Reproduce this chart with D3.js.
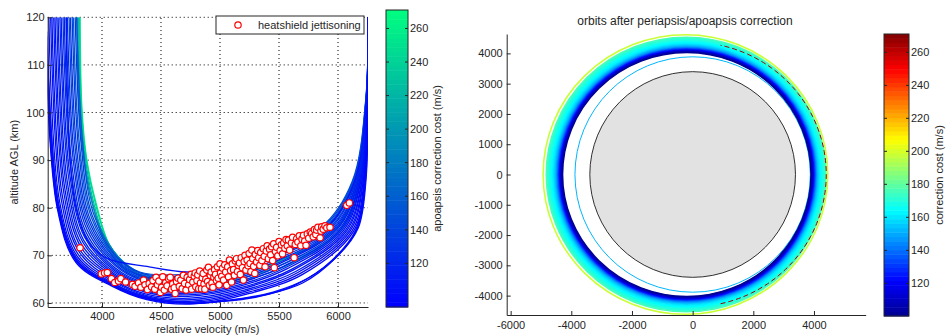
<!DOCTYPE html>
<html>
<head>
<meta charset="utf-8">
<script src="https://cdn.jsdelivr.net/npm/d3@7"></script>
<style>
  body { margin: 0; background: #fff; }
  svg text { font-family: "Liberation Sans", Arial, Helvetica, sans-serif; font-size: 11px; fill: #262626; }
  .axis path, .axis line { stroke: #262626; }
  .grid line { stroke: #000; stroke-dasharray: 1,3; }
</style>
</head>
<body>
<svg width="946" height="336"></svg>
<script>
// ---- left panel: entry trajectories (relative velocity m/s, altitude km)
const xTicksL = [4000, 4500, 5000, 5500, 6000];
const yTicksL = [60, 70, 80, 90, 100, 110, 120];
const cbTicks = [120, 140, 160, 180, 200, 220, 240, 260];

// apoapsis correction cost of each trajectory (m/s)
const trajCost = [262, 243, 224, 205, 185,
  150, 138, 156, 134, 128, 142, 122, 131, 116, 126, 112, 121, 108, 118, 104, 113, 102, 110, 100, 99, 98,
  108, 100, 104, 99];

const trajPoints = [
  [[6254,120],[6244,103],[6170,85.5],[5990,75.5],[5480,68.5],[5050,65.2],[4640,64.3],[4330,65.6],[4180,68.4],[4060,72.3],[3960,80],[3872,90],[3830,101],[3815,120]],
  [[6254,120],[6242,103],[6160,85.5],[5970,75.3],[5450,68.3],[5020,65.0],[4620,64.6],[4320,66.0],[4170,68.8],[4050,72.8],[3950,80.3],[3865,90.5],[3826,101],[3810,120]],
  [[6255,120],[6246,103],[6180,85.5],[6010,75.2],[5520,68.0],[5080,64.6],[4660,63.8],[4340,65.0],[4160,68.0],[4030,73.2],[3935,80.5],[3855,91],[3818,102],[3803,120]],
  [[6255,120],[6247,103],[6185,85.5],[6030,75.4],[5560,67.8],[5110,64.3],[4680,63.5],[4350,64.5],[4140,68.2],[4010,73.5],[3920,81],[3845,91.5],[3810,103],[3795,120]],
  [[6254,120],[6243,103],[6165,85.5],[5985,75.6],[5470,68.6],[5040,65.4],[4630,64.9],[4325,66.3],[4150,69.4],[4000,75],[3905,82],[3832,93],[3800,104],[3788,120]],
  [[6253,120],[6236,103],[6120,85.5],[5860,76],[5300,70.4],[4950,66.9],[4600,65.9],[4320,66.5],[4130,69.6],[3925,79],[3835,94],[3785,120]],
  [[6253,120],[6237,103],[6126,85.5],[5872,75.9],[5322,70.1],[4966,66.6],[4612,65.6],[4323,66.3],[4127,69.5],[3917,78.4],[3824,93.2],[3773,120]],
  [[6254,120],[6238,103],[6131,85.5],[5888,75.9],[5338,69.9],[4978,66.4],[4619,65.3],[4327,66.0],[4125,69.2],[3911,77.9],[3812,92.6],[3758,120]],
  [[6254,120],[6238,103],[6135,85.5],[5901,75.8],[5362,69.6],[4996,66.1],[4626,65.0],[4329,65.8],[4122,69.0],[3903,77.3],[3804,91.8],[3747,120]],
  [[6254,120],[6239,103],[6142,85.5],[5913,75.8],[5379,69.5],[5011,66.0],[4637,64.8],[4332,65.6],[4119,68.7],[3895,76.9],[3791,91.1],[3732,120]],
  [[6254,120],[6240,103],[6147,85.5],[5929,75.8],[5402,69.2],[5024,65.8],[4644,64.5],[4336,65.3],[4118,68.4],[3889,76.3],[3782,90.4],[3721,120]],
  [[6254,120],[6241,103],[6151,85.5],[5940,75.7],[5418,69.1],[5041,65.5],[4655,64.2],[4338,65.0],[4115,68.1],[3881,75.9],[3770,89.8],[3706,120]],
  [[6254,120],[6242,103],[6158,85.5],[5956,75.7],[5441,68.8],[5054,65.3],[4662,63.9],[4341,64.7],[4113,67.8],[3875,75.3],[3761,89.0],[3695,120]],
  [[6254,120],[6242,103],[6161,85.5],[5967,75.6],[5459,68.6],[5071,65.0],[4673,63.6],[4344,64.4],[4110,67.4],[3866,74.8],[3748,88.4],[3680,120]],
  [[6255,120],[6243,103],[6168,85.5],[5983,75.6],[5481,68.3],[5084,64.8],[4680,63.2],[4347,64.1],[4108,67.1],[3861,74.2],[3739,87.6],[3669,120]],
  [[6255,120],[6244,103],[6172,85.5],[5994,75.5],[5499,68.2],[5101,64.5],[4691,62.9],[4350,63.8],[4105,66.8],[3853,73.8],[3727,87.0],[3654,120]],
  [[6255,120],[6245,103],[6179,85.5],[6010,75.5],[5521,68.0],[5114,64.2],[4698,62.6],[4353,63.5],[4103,66.5],[3844,73.2],[3718,86.2],[3643,120]],
  [[6255,120],[6246,103],[6183,85.5],[6021,75.4],[5538,67.7],[5131,64.0],[4709,62.3],[4356,63.2],[4100,66.2],[3839,72.7],[3705,85.6],[3628,120]],
  [[6255,120],[6246,103],[6189,85.5],[6037,75.4],[5561,67.5],[5144,63.7],[4716,62.0],[4359,62.9],[4098,65.9],[3830,72.2],[3696,84.8],[3617,120]],
  [[6255,120],[6247,103],[6193,85.5],[6048,75.3],[5579,67.3],[5161,63.5],[4727,61.7],[4362,62.6],[4095,65.6],[3825,71.6],[3684,84.2],[3602,120]],
  [[6255,120],[6248,103],[6200,85.5],[6064,75.3],[5601,67.0],[5174,63.2],[4734,61.4],[4365,62.3],[4093,65.3],[3815,71.1],[3675,83.4],[3591,120]],
  [[6256,120],[6249,103],[6204,85.5],[6075,75.2],[5619,66.9],[5191,63.0],[4745,61.0],[4368,61.9],[4090,64.9],[3810,70.6],[3662,82.8],[3576,120]],
  [[6256,120],[6250,103],[6210,85.5],[6091,75.2],[5641,66.6],[5204,62.7],[4752,60.7],[4371,61.6],[4088,64.6],[3801,70.1],[3653,82.0],[3565,120]],
  [[6256,120],[6250,103],[6214,85.5],[6102,75.1],[5659,66.4],[5221,62.5],[4763,60.4],[4374,61.3],[4085,64.3],[3796,69.6],[3640,81.4],[3550,120]],
  [[6256,120],[6251,103],[6221,85.5],[6118,75.1],[5681,66.2],[5234,62.2],[4770,60.1],[4377,61.0],[4083,63.9],[3786,69.0],[3631,80.7],[3535,117]],
  [[6256,120],[6252,103],[6225,85.5],[6130,75.0],[5700,66.0],[5250,62.0],[4780,59.8],[4380,60.7],[4080,63.6],[3780,68.5],[3620,80.0],[3525,112]],
  [[6254,120],[6240,103],[6140,85.5],[5900,75.8],[5380,69.8],[5000,67.0],[4720,66.5],[4400,67.6],[4040,69.4],[3880,73],[3780,80],[3730,90],[3706,104],[3698,120]],
  [[6256,120],[6253,103],[6232,85.5],[6160,75.5],[5980,69.5],[5700,64.2],[5400,61.8],[5000,60.3],[4780,60.0],[4400,60.9],[4090,63.8],[3790,68.8],[3628,80.3],[3530,114]],
  [[6256,120],[6253,103],[6236,85.5],[6172,75.8],[6010,70.2],[5760,65.4],[5450,62.3],[5050,60.5],[4790,60.1],[4410,61.1],[4095,64.0],[3795,69.1],[3634,80.6],[3533,116]],
  [[6256,120],[6252,103],[6228,85.5],[6150,75.3],[5950,69.0],[5640,63.8],[5300,61.2],[4950,60.2],[4770,59.9],[4390,60.8],[4085,63.7],[3785,68.7],[3624,80.1],[3528,112]]
];

// heatshield jettisoning events [velocity, altitude]
const jettison = [
  [3814,71.6],[3995,66.1],[4022,66.3],[4045,66.4],[4080,65.1],[4108,64.3],[4140,64.6],[4160,65.1],[4200,64.4],[4258,63.9],[4280,63.5],
  [4310,64.2],[4330,63.3],[4352,64.8],[4365,63.8],[4385,62.8],[4400,64.1],[4420,63.4],[4432,64.7],[4447,62.9],[4458,65.4],[4470,63.8],[4482,64.6],[4495,62.2],[4505,63.3],
  [4515,65.5],[4528,62.7],[4540,64.3],[4552,63.6],[4565,65.1],[4578,65.4],[4590,62.9],[4600,64.0],[4612,63.2],[4620,62.0],[4632,64.5],[4645,65.2],[4655,63.5],[4668,64.8],[4680,63.0],[4690,65.8],[4700,64.1],[4712,62.7],[4722,65.4],
  [4735,63.8],[4742,64.9],[4755,66.0],[4760,62.9],[4770,64.4],[4782,65.6],[4790,66.3],[4795,63.4],[4805,64.7],[4812,65.9],[4820,63.0],[4828,66.7],[4835,64.2],[4843,63.0],[4850,65.3],[4858,66.2],[4865,64.0],[4872,62.9],[4880,65.0],[4888,66.9],[4895,64.5],[4902,67.5],[4910,63.7],[4918,65.8],[4925,66.5],[4932,64.2],[4940,63.3],[4948,65.4],[4955,67.0],[4962,66.0],[4970,64.7],[4978,67.6],[4985,65.2],[4992,63.8],[5000,68.2],[5005,66.3],
  [5015,65.6],[5022,67.3],[5030,64.8],[5040,68.0],[5048,66.5],[5057,63.7],[5065,67.6],[5072,65.5],[5080,69.0],[5090,66.8],[5098,64.4],[5105,68.2],[5115,67.0],[5122,65.8],[5130,68.8],[5140,69.3],[5148,66.6],[5155,67.9],[5165,68.4],[5172,66.0],[5180,69.5],[5190,67.4],[5198,64.8],[5205,68.7],[5212,70.0],[5220,66.9],[5230,69.0],[5238,67.8],[5247,70.4],[5255,68.3],[5262,66.6],[5270,71.1],[5278,69.3],[5285,67.7],[5295,66.2],[5300,70.2],
  [5310,68.6],[5320,71.0],[5328,69.5],[5338,67.9],[5345,70.6],[5355,68.9],[5367,71.4],[5375,69.8],[5382,67.6],[5392,70.9],[5400,72.0],[5410,69.3],[5420,71.3],[5430,70.1],[5438,71.8],[5446,68.9],[5455,72.4],[5460,67.4],[5470,70.8],[5480,71.7],[5490,69.9],[5500,72.9],[5510,71.0],[5520,72.2],[5530,70.3],[5540,72.6],[5550,71.5],[5560,73.3],[5570,72.0],[5580,73.2],[5590,71.1],
  [5605,72.6],[5615,73.8],[5628,69.5],[5638,72.3],[5650,73.5],[5660,72.8],[5672,74.1],[5685,72.0],[5695,73.4],[5707,74.2],[5718,73.0],[5729,72.1],[5740,74.5],[5752,73.6],[5765,74.9],[5777,74.6],[5790,73.9],[5800,75.4],[5812,74.4],[5819,75.3],[5830,75.9],[5848,73.7],[5855,75.1],[5862,76.0],[5875,75.5],[5890,76.2],[5905,75.8],[5932,75.9],
  [6074,80.5],[6096,81.0]
];

// ---- right panel: orbits after correction (km)
const xTicksR = [-6000, -4000, -2000, 0, 2000, 4000];
const yTicksR = [-4000, -3000, -2000, -1000, 0, 1000, 2000, 3000, 4000];
const orbitPeri = [3904, 3925, 3950, 3972, 3995, 4020, 4045, 4070, 4095, 4120, 4148, 4175, 4200, 4228, 4255, 4282, 4310, 4338, 4365, 4392, 4455];
const orbitApo  = [4290, 4315, 4340, 4368, 4392, 4420, 4448, 4475, 4505, 4532, 4560, 4590, 4620, 4650, 4680, 4708, 4738, 4766, 4795, 4825, 4930];
const orbitCost = [101, 106, 112, 119, 126, 133, 140, 146, 151, 155, 158, 161, 163, 165, 167, 169, 170, 172, 174, 177, 198];
const hotOrbit = { peri: 4405, apo: 4470, cost: 266, arcFrom: -78, arcTo: 78 };
const orbitTilt = 10;        // deg, projection flattening
const marsRadius = 3390;
const targetRadius = 3880;

const svg = d3.select('svg');
const fmt = d => String(d);

// scales
const xL = d3.scaleLinear().domain([3540, 6254]).range([47.7, 368]);
const yL = d3.scaleLinear().domain([59.15, 120]).range([307, 17.3]);
const cbL = d3.scaleLinear().domain([94, 271]).range([307, 10]);
const winter = d3.scaleLinear().domain([94, 271]).range(['#0000ff', '#00ff80']);

const xR = d3.scaleLinear().domain([-6130, 5705]).range([506.7, 865.7]);
const yR = d3.scaleLinear().domain([-4640, 4640]).range([315, 34]);
const cbR = d3.scaleLinear().domain([100.2, 271.1]).range([316, 34]);
const jd = cbR.domain(), js = jd[1] - jd[0];
const jet = d3.scaleLinear()
  .domain([0, 0.125, 0.375, 0.625, 0.875, 1].map(t => jd[0] + t * js))
  .range(['#000090', '#0000ff', '#00ffff', '#ffff00', '#ff0000', '#800000']);

// ---------- left panel
svg.append('defs').append('clipPath').attr('id', 'clipL')
  .append('rect').attr('x', xL.range()[0]).attr('y', yL.range()[1])
  .attr('width', xL.range()[1] - xL.range()[0]).attr('height', yL.range()[0] - yL.range()[1]);

const grid = svg.append('g').attr('class', 'grid');
grid.selectAll('.gx').data(xTicksL).join('line')
  .attr('x1', d => xL(d)).attr('x2', d => xL(d))
  .attr('y1', yL.range()[0]).attr('y2', yL.range()[1]);
grid.selectAll('.gy').data(yTicksL).join('line')
  .attr('y1', d => yL(d)).attr('y2', d => yL(d))
  .attr('x1', xL.range()[0]).attr('x2', xL.range()[1]);

const trajLine = d3.line()
  .x(d => xL(d[0])).y(d => yL(d[1]))
  .curve(d3.curveCatmullRom.alpha(0.5));

svg.append('g').attr('clip-path', 'url(#clipL)')
  .selectAll('path').data(trajPoints).join('path')
  .attr('d', trajLine)
  .attr('fill', 'none')
  .attr('stroke', (d, i) => winter(trajCost[i]))
  .attr('stroke-width', 1.3);

svg.append('g').selectAll('circle').data(jettison).join('circle')
  .attr('cx', d => xL(d[0])).attr('cy', d => yL(d[1]))
  .attr('r', 3.2)
  .attr('fill', '#fff').attr('stroke', '#ff0000').attr('stroke-width', 1.2);

svg.append('g').attr('class', 'axis')
  .attr('transform', `translate(0,${yL.range()[0]})`)
  .call(d3.axisBottom(xL).tickValues(xTicksL).tickFormat(fmt).tickSize(-4).tickSizeOuter(0).tickPadding(5));
svg.append('g').attr('class', 'axis')
  .attr('transform', `translate(${xL.range()[0]},0)`)
  .call(d3.axisLeft(yL).tickValues(yTicksL).tickFormat(fmt).tickSize(-4).tickSizeOuter(0).tickPadding(3));

svg.append('text').attr('text-anchor', 'middle')
  .attr('transform', `translate(18,${(yL.range()[0] + yL.range()[1]) / 2}) rotate(-90)`)
  .text('altitude AGL (km)');
svg.append('text').attr('text-anchor', 'middle')
  .attr('x', (xL.range()[0] + xL.range()[1]) / 2).attr('y', 333)
  .text('relative velocity (m/s)');

// legend
const leg = svg.append('g');
leg.append('rect').attr('x', 216).attr('y', 16).attr('width', 148).attr('height', 18)
  .attr('fill', '#fff').attr('stroke', '#262626');
leg.append('circle').attr('cx', 238).attr('cy', 25).attr('r', 3.2)
  .attr('fill', '#fff').attr('stroke', '#ff0000').attr('stroke-width', 1.2);
leg.append('text').attr('x', 258).attr('y', 29).text('heatshield jettisoning');

// colorbar helper
function colorbar(scale, cmap, x0, w, label, labelX) {
  const g = svg.append('g');
  const [d0, d1] = scale.domain();
  const n = 64, step = (d1 - d0) / n;
  const levels = d3.range(n).map(i => d0 + i * step);
  g.selectAll('rect.lv').data(levels).join('rect')
    .attr('x', x0).attr('width', w)
    .attr('y', d => scale(d + step)).attr('height', d => scale(d) - scale(d + step) + 0.5)
    .attr('fill', d => cmap(d + step / 2));
  g.append('rect').attr('x', x0).attr('y', scale(d1)).attr('width', w)
    .attr('height', scale(d0) - scale(d1)).attr('fill', 'none').attr('stroke', '#262626');
  g.selectAll('line.tl').data(cbTicks).join('line')
    .attr('x1', x0).attr('x2', x0 + 3).attr('y1', d => scale(d)).attr('y2', d => scale(d))
    .attr('stroke', '#262626');
  g.selectAll('line.tr').data(cbTicks).join('line')
    .attr('x1', x0 + w - 3).attr('x2', x0 + w).attr('y1', d => scale(d)).attr('y2', d => scale(d))
    .attr('stroke', '#262626');
  g.selectAll('text.tk').data(cbTicks).join('text')
    .attr('x', x0 + w + 2).attr('y', d => scale(d)).attr('dy', '0.35em')
    .text(d => d);
  g.append('text').attr('text-anchor', 'middle')
    .attr('transform', `translate(${labelX},${(scale(d0) + scale(d1)) / 2}) rotate(-90)`)
    .text(label);
}
colorbar(cbL, winter, 386, 22, 'apoapsis correction cost (m/s)', 441);

// ---------- right panel
const k = xR(1) - xR(0);
const tilt = Math.cos(orbitTilt * Math.PI / 180);

svg.append('circle')
  .attr('cx', xR(0)).attr('cy', yR(0)).attr('r', marsRadius * k)
  .attr('fill', '#e2e2e2').attr('stroke', '#1a1a1a').attr('stroke-width', 0.9);
svg.append('circle')
  .attr('cx', xR(0)).attr('cy', yR(0)).attr('r', targetRadius * k)
  .attr('fill', 'none').attr('stroke', jet(152)).attr('stroke-width', 1);

const orbits = orbitPeri.map((p, i) => ({ peri: p, apo: orbitApo[i], cost: orbitCost[i] }))
  .sort((a, b) => b.cost - a.cost);
svg.append('g').selectAll('ellipse').data(orbits).join('ellipse')
  .attr('cx', d => xR(-(d.apo - d.peri) / 2)).attr('cy', yR(0))
  .attr('rx', d => xR((d.apo + d.peri) / 2) - xR(0))
  .attr('ry', d => yR(0) - yR(Math.sqrt(d.apo * d.peri) * tilt))
  .attr('fill', 'none').attr('stroke', d => jet(d.cost)).attr('stroke-width', 1.6);

const a = (hotOrbit.peri + hotOrbit.apo) / 2;
const e = (hotOrbit.apo - hotOrbit.peri) / (hotOrbit.apo + hotOrbit.peri);
const hotPts = d3.range(hotOrbit.arcFrom, hotOrbit.arcTo + 1, 2).map(t => {
  const th = t * Math.PI / 180;
  const r = a * (1 - e * e) / (1 + e * Math.cos(th));
  return [r * Math.cos(th), r * Math.sin(th) * tilt];
});
svg.append('path')
  .attr('d', d3.line().x(d => xR(d[0])).y(d => yR(d[1]))(hotPts))
  .attr('fill', 'none').attr('stroke', jet(hotOrbit.cost)).attr('stroke-width', 1)
  .attr('stroke-dasharray', '5,3');

svg.append('g').attr('class', 'axis')
  .attr('transform', `translate(0,${yR.range()[0]})`)
  .call(d3.axisBottom(xR).tickValues(xTicksR).tickFormat(fmt).tickSize(-4).tickSizeOuter(0).tickPadding(6));
svg.append('g').attr('class', 'axis')
  .attr('transform', `translate(${xR.range()[0]},0)`)
  .call(d3.axisLeft(yR).tickValues(yTicksR).tickFormat(fmt).tickSize(-4).tickSizeOuter(0).tickPadding(4));

svg.append('text').attr('text-anchor', 'middle')
  .attr('x', 685).attr('y', 25).style('font-size', '12px')
  .text('orbits after periapsis/apoapsis correction');

colorbar(cbR, jet, 884, 25, 'correction cost (m/s)', 943);
</script>
</body>
</html>
